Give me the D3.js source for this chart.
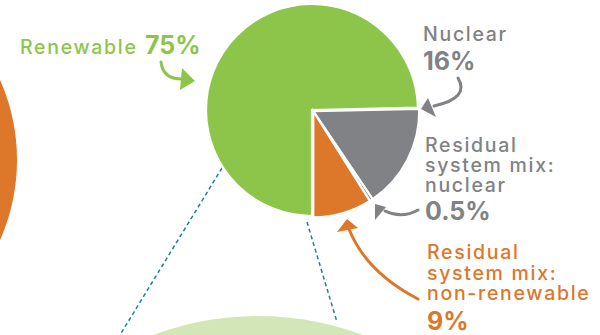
<!DOCTYPE html>
<html>
<head>
<meta charset="utf-8">
<script src="https://cdn.jsdelivr.net/npm/d3@7"></script>
<style>
  html, body { margin: 0; padding: 0; background: #fff; }
  svg { display: block; }
  text { font-family: Inter, "Open Sans", sans-serif; }
</style>
</head>
<body>
<svg id="chart" width="600" height="335"></svg>
<script>
// Electricity supply mix
const categories = ["Renewable", "Nuclear", "Residual system mix: nuclear", "Residual system mix: non-renewable"];
const values = [75, 16, 0.5, 9];
const valueLabels = ["75%", "16%", "0.5%", "9%"];
const colors = ["#8dc54b", "#808285", "#86878a", "#dd7729"];

const svg = d3.select("#chart");
const cx = 312, cy = 110, R = 106;

// background shapes: neighbouring circle on the left, zoom circle below
svg.append("circle").attr("cx", -180).attr("cy", 160).attr("r", 197).attr("fill", "#dd7729");
svg.append("ellipse").attr("cx", 258).attr("cy", 316 + 300).attr("rx", 300).attr("ry", 300).attr("fill", "#d3e6b8");

// dashed connectors from the pie down to the zoom circle
const teal = "#1f7ea3";
svg.append("line").attr("x1", 222).attr("y1", 168).attr("x2", 120).attr("y2", 335)
  .attr("stroke", teal).attr("stroke-width", 1.5).attr("stroke-dasharray", "4,3");
svg.append("line").attr("x1", 307).attr("y1", 222).attr("x2", 337).attr("y2", 322)
  .attr("stroke", teal).attr("stroke-width", 1.5).attr("stroke-dasharray", "4,3");

// pie: renewable sweeps clockwise from 6 o'clock, the rest fill the lower right
const pie = d3.pie().sort(null).value(d => d).startAngle(Math.PI).endAngle(3 * Math.PI);
const arcs = pie(values);
const arc = d3.arc().innerRadius(0).outerRadius(R);

const g = svg.append("g").attr("transform", `translate(${cx},${cy})`);
g.selectAll("path").data(arcs).join("path")
  .attr("d", arc)
  .attr("fill", (d, i) => colors[i])
  .attr("stroke", "#fff")
  .attr("stroke-width", 2.2)
  .attr("stroke-linejoin", "miter")
  .attr("transform", (d, i) => {
    if (i === 0) return null;
    const a = 3 * Math.PI / 4;
    return `translate(${1.8 * Math.sin(a)},${-1.8 * Math.cos(a)})`;
  });

// labels
const green = "#8dc54b", gray = "#808285", orange = "#dd7729";
function label(x, y, str, color, size, weight, spacing) {
  return svg.append("text").attr("x", x).attr("y", y).text(str)
    .attr("fill", color).attr("font-size", size).attr("font-weight", weight)
    .attr("letter-spacing", spacing);
}
const nameSize = 19.5, nameSpacing = 1.7, numSize = 25, numSpacing = 0;
label(20, 54, "Renewable", green, nameSize, 500, nameSpacing);
label(145, 54, valueLabels[0], green, numSize, 700, numSpacing);

label(423, 40.5, "Nuclear", gray, nameSize, 500, nameSpacing);
label(423, 70, valueLabels[1], gray, numSize, 700, numSpacing);

["Residual", "system mix:", "nuclear"].forEach((s, i) => label(425, 151.5 + 20 * i, s, gray, nameSize, 500, nameSpacing));
label(425, 220, valueLabels[2], gray, numSize, 700, numSpacing);

["Residual", "system mix:", "non-renewable"].forEach((s, i) => label(427, 259 + 20.5 * i, s, orange, nameSize, 500, nameSpacing));
label(427, 329.5, valueLabels[3], orange, numSize, 700, numSpacing);

// curved pointer arrows
function arrow(pathD, head, color) {
  svg.append("path").attr("d", pathD).attr("fill", "none")
    .attr("stroke", color).attr("stroke-width", 3).attr("stroke-linecap", "round");
  svg.append("path").attr("d", d3.line()(head) + "Z").attr("fill", color);
}
arrow("M161,62 Q163,80 184,79", [[182,68],[195,81],[180,90]], green);
arrow("M458,78 Q470,98 434,106", [[428,98],[421,109],[436,117]], gray);
arrow("M418,210 Q402,219 385,211", [[375,204],[375,220],[386,207]], gray);
arrow("M418,299 Q366,272 349,229", [[337,232],[347,219],[358,228]], orange);
</script>
</body>
</html>
